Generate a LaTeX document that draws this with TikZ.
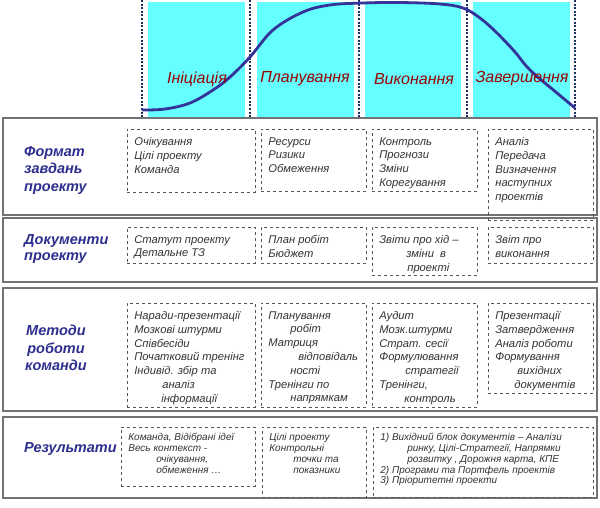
\documentclass[tikz,border=0pt]{standalone}
\usepackage{fontspec}
\setmainfont{Liberation Sans}
\usepackage{xcolor}
\usepackage{tikz}
\usetikzlibrary{positioning}

\definecolor{phasecyan}{HTML}{66FFFF}
\definecolor{curveblue}{HTML}{333399}
\definecolor{dotnavy}{HTML}{1F3060}
\definecolor{phasered}{HTML}{990000}
\definecolor{labelblue}{HTML}{2E2E8F}
\definecolor{celltext}{HTML}{333333}
\definecolor{dashgray}{HTML}{555555}

% fixed-size top-aligned cell text
\newcommand{\cellbox}[3]{\parbox[t][#2pt][t]{#1pt}{\raggedright #3}}

\begin{document}
\begin{tikzpicture}[x=1pt, y=-1pt,
    rowbox/.style={draw=gray!90!black, line width=1.5pt, fill=white},
    cell/.style={draw=dashgray, dashed, line width=0.7pt, anchor=north west,
      inner xsep=7pt, inner ysep=8pt, text=celltext,
      font=\fontsize{11.2}{13.8}\selectfont\itshape},
    smallcell/.style={cell, inner ysep=6pt,
      font=\fontsize{10}{10.8}\selectfont\itshape},
    rowlabel/.style={text=labelblue, inner sep=0pt,
      font=\fontsize{14.5}{17.5}\selectfont\bfseries\itshape},
    phase/.style={text=phasered, font=\fontsize{16}{18}\selectfont\itshape},
    sep/.style={draw=dotnavy, line width=2.4pt, dash pattern=on 2pt off 1.6pt},
    lifecurve/.style={draw=curveblue, line width=2.8pt}]
  \useasboundingbox (0,0) rectangle (600,507);

  % Phase bands
  \fill[phasecyan] (148,2) rectangle (245,117);
  \fill[phasecyan] (257,2) rectangle (354,117);
  \fill[phasecyan] (365,2) rectangle (461,117);
  \fill[phasecyan] (473,2) rectangle (570,117);
  % Phase borders
  \foreach \x in {142,250,359,467,575}
    \draw[sep] (\x,0) -- (\x,118);
  % Life cycle curve
  \draw[lifecurve] plot[smooth, tension=0.6] coordinates {(142,110) (165,109) (190,103) (213,90) (230,77) (250,57) (273,30) (303,12) (330,5) (363,3) (400,2.5) (440,4) (463,8) (480,18) (497,33) (515,52) (530,70) (557,93) (575,108)};
  % Phase names
  \node[phase] (ini)  at (197,79) {Ініціація};
  \node[phase] (plan) at (305,79) {Планування};
  \node[phase] (vyk)  at (414,79) {Виконання};
  \node[phase] (zav)  at (522,79) {Завершення};

  % Rows
  \draw[rowbox] (3,118) rectangle (597,215);
  \draw[rowbox] (3,218) rectangle (597,282);
  \draw[rowbox] (3,288) rectangle (597,411);
  \draw[rowbox] (3,417) rectangle (597,498);

  % Row names
  \node[rowlabel, anchor=west, align=left] (lFormat) at (24,170) {Формат\\завдань\\проекту};
  \node[rowlabel, anchor=west, align=left, font=\fontsize{14.5}{16}\selectfont\bfseries\itshape] (lDocs) at (24,249) {Документи\\проекту};
  \node[rowlabel, align=center] (lMethods) at (56,348) {Методи\\роботи\\команди};
  \node[rowlabel, anchor=west] (lResults) at (24,449) {Результати};

  % Format
  \node[cell] (f1) at (127,129) {\cellbox{114}{47}{Очікування\\Цілі проекту\\Команда}};
  \node[cell] (f2) at (261,129) {\cellbox{91}{46}{Ресурси\\Ризики\\Обмеження}};
  \node[cell] (f3) at (372,129) {\cellbox{91}{46}{Контроль\\Прогнози\\Зміни\\Корегування}};
  \node[cell] (f4) at (488,129) {\cellbox{91}{75}{Аналіз\\Передача\\Визначення\\наступних\\проектів}};

  % Documents
  \node[cell] (d1) at (127,227) {\cellbox{114}{20}{Статут проекту\\Детальне ТЗ}};
  \node[cell] (d2) at (261,227) {\cellbox{91}{20}{План робіт\\Бюджет}};
  \node[cell] (d3) at (372,227) {\cellbox{91}{32}{Звіти про хід --\\\hspace*{27pt}зміни~ в\\\hspace*{28pt}проекті}};
  \node[cell] (d4) at (488,227) {\cellbox{91}{20}{Звіт про\\виконання}};

  % Methods
  \node[cell] (m1) at (127,303) {\cellbox{114}{88}{Наради-презентації\\Мозкові штурми\\Співбесіди\\Початковий тренінг\\Індивід. збір та\\\hspace*{28pt}аналіз\\\hspace*{27pt}інформації}};
  \node[cell] (m2) at (261,303) {\cellbox{91}{88}{Планування\\\hspace*{22pt}робіт\\Матриця\\\hspace*{30pt}відповідаль\\\hspace*{22pt}ності\\Тренінги по\\\hspace*{22pt}напрямкам}};
  \node[cell] (m3) at (372,303) {\cellbox{91}{88}{Аудит\\Мозк.штурми\\Страт. сесії\\Формулювання\\\hspace*{26pt}стратегії\\Тренінги,\\\hspace*{25pt}контроль}};
  \node[cell] (m4) at (488,303) {\cellbox{91}{74}{Презентації\\Затвердження\\Аналіз роботи\\Формування\\\hspace*{22pt}вихідних\\\hspace*{19pt}документів}};

  % Results
  \node[smallcell] (r1) at (121,427) {\cellbox{120}{47}{Команда, Відібрані ідеї\\Весь контекст -\\\hspace*{28pt}очікування,\\\hspace*{28pt}обмеження \dots}};
  \node[smallcell] (r2) at (262,427) {\cellbox{90}{58}{Цілі проекту\\Контрольні\\\hspace*{24pt}точки та\\\hspace*{24pt}показники}};
  \node[smallcell] (r3) at (373,427) {\cellbox{206}{58}{1) Вихідний блок документів -- Аналізи\\\hspace*{27pt}ринку, Цілі-Стратегії, Напрямки\\\hspace*{27pt}розвитку , Дорожня карта, КПЕ\\2) Програми та Портфель проектів\\3) Пріоритетні проекти}};
\end{tikzpicture}
\end{document}
